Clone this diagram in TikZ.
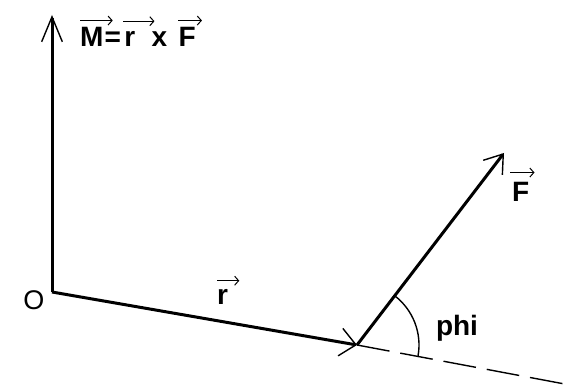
\documentclass[tikz,border=0pt]{standalone}
\usepackage{fontspec}
\setmainfont{Liberation Sans}
\usetikzlibrary{arrows.meta}
\begin{document}
\begin{tikzpicture}[x=1pt,y=1pt,
vector/.style={line width=3pt},
helper/.style={line width=1.4pt},
overarr/.style={line width=1pt,-{Straight Barb[length=4pt,width=9pt]}},
lbl/.style={font=\bfseries\fontsize{28}{28}\selectfont,inner sep=0pt,anchor=base west}
]
\useasboundingbox (0,0) rectangle (573,388);
\coordinate (O) at (52,96);
\coordinate (M) at (52,373);
\coordinate (P) at (357,43);
\coordinate (F) at (504,235);
\coordinate (D) at (570,3);
\draw[vector,-{Straight Barb[angle=45:27pt,line width=1.4pt]}] (O) -- (M);
\draw[vector,-{Straight Barb[angle=83:21pt,line width=1.4pt]}] (O) -- (P);
\draw[vector,-{Straight Barb[angle=70:21pt,line width=1.4pt]}] (P) -- (F);
\draw[helper,dash pattern=on 33pt off 11pt] (P) -- (D);
\draw[helper] ([shift={(52.6:62)}]P) arc[start angle=52.6,end angle=-10,radius=62];
\node[font=\fontsize{27}{27}\selectfont,inner sep=0pt] (lblO) at (34,88) {O};
\node[lbl] (mM) at (80,341) {M};
\node[lbl] (mEq) at ([xshift=0.7pt]mM.base east) {=};
\node[lbl] (mR) at ([xshift=3pt]mEq.base east) {r};
\node[lbl] (mX) at ([xshift=16pt]mR.base east) {x};
\node[lbl] (mF) at ([xshift=11pt]mX.base east) {F};
\node[lbl] (lblr) at (217,83) {r};
\node[lbl] (lblF) at (512,186) {F};
\node[lbl,anchor=base] (lblphi) at (457,52) {phi};
\draw[overarr] ([shift={(0pt,7pt)}]mM.north west) -- ([shift={(9pt,7pt)}]mM.north east);
\draw[overarr] ([shift={(-1pt,10.5pt)}]mR.north west) -- ([shift={(19pt,10.5pt)}]mR.north east);
\draw[overarr] ([shift={(0pt,7pt)}]mF.north west) -- ([shift={(6pt,7pt)}]mF.north east);
\draw[overarr] ([shift={(0pt,9pt)}]lblr.north west) -- ([shift={(11pt,9pt)}]lblr.north east);
\draw[overarr] ([shift={(-2pt,10pt)}]lblF.north west) -- ([shift={(5pt,10pt)}]lblF.north east);
\end{tikzpicture}
\end{document}
